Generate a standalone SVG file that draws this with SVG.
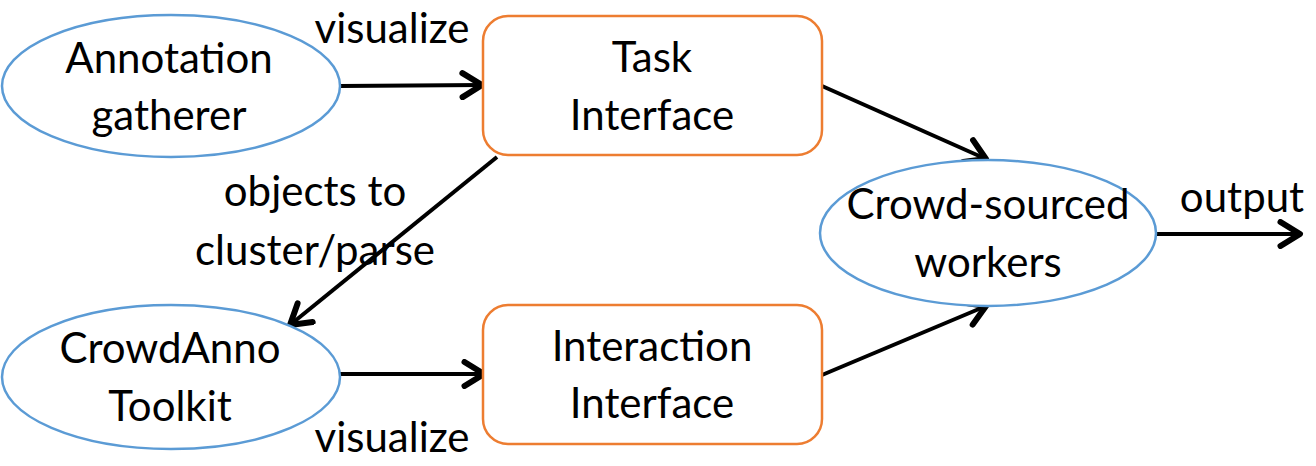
<svg xmlns="http://www.w3.org/2000/svg" width="1316" height="466" viewBox="0 0 1316 466">
<defs>
<style>
.ell{fill:#fff;stroke:#5B9BD5;stroke-width:2.5}
.box{fill:#fff;stroke:#ED7D31;stroke-width:2.5}
.t{font-family:Lato,"Liberation Sans",sans-serif;font-size:42px;fill:#000;text-anchor:middle}
.c{stroke:#000;stroke-width:4;fill:none}
</style>
<marker id="ah" markerUnits="userSpaceOnUse" markerWidth="30" markerHeight="30" refX="16" refY="10" orient="auto" viewBox="0 0 20 20">
<path d="M3,2 L16,10 L3,18" fill="none" stroke="#000" stroke-width="4" stroke-linecap="round" stroke-linejoin="round"/>
</marker>
</defs>
<rect width="1316" height="466" fill="#fff"/>
<g id="connectors">
<line class="c" x1="340" y1="86" x2="482" y2="85" marker-end="url(#ah)"/>
<line class="c" x1="822" y1="86" x2="986" y2="159" marker-end="url(#ah)"/>
<line class="c" x1="822" y1="375" x2="986" y2="306" marker-end="url(#ah)"/>
<line class="c" x1="1157" y1="234" x2="1300" y2="234" marker-end="url(#ah)"/>
<line class="c" x1="497" y1="157" x2="290" y2="325" marker-end="url(#ah)"/>
<line class="c" x1="340" y1="374" x2="484" y2="374" marker-end="url(#ah)"/>
<text class="t" x="392" y="43">visualize</text>
<text class="t" x="315" y="206">objects to</text>
<text class="t" x="315" y="265">cluster/parse</text>
<text class="t" x="392" y="452">visualize</text>
<text class="t" x="1242" y="212">output</text>
</g>
<g id="annotation-gatherer">
<ellipse class="ell" cx="171" cy="86" rx="169" ry="71"/>
<text class="t" x="169" y="73">Annotation</text>
<text class="t" x="169" y="130">gatherer</text>
</g>
<g id="task-interface">
<rect class="box" x="483" y="16" width="339" height="139" rx="25"/>
<text class="t" x="652" y="72">Task</text>
<text class="t" x="652" y="130">Interface</text>
</g>
<g id="crowdanno-toolkit">
<ellipse class="ell" cx="171" cy="377" rx="169" ry="72"/>
<text class="t" x="170" y="363">CrowdAnno</text>
<text class="t" x="170" y="421">Toolkit</text>
</g>
<g id="interaction-interface">
<rect class="box" x="483" y="305" width="339" height="139" rx="25"/>
<text class="t" x="652" y="361">Interaction</text>
<text class="t" x="652" y="418">Interface</text>
</g>
<g id="crowd-workers">
<ellipse class="ell" cx="988" cy="233" rx="168" ry="73"/>
<text class="t" x="988" y="219">Crowd-sourced</text>
<text class="t" x="988" y="277">workers</text>
</g>
</svg>
